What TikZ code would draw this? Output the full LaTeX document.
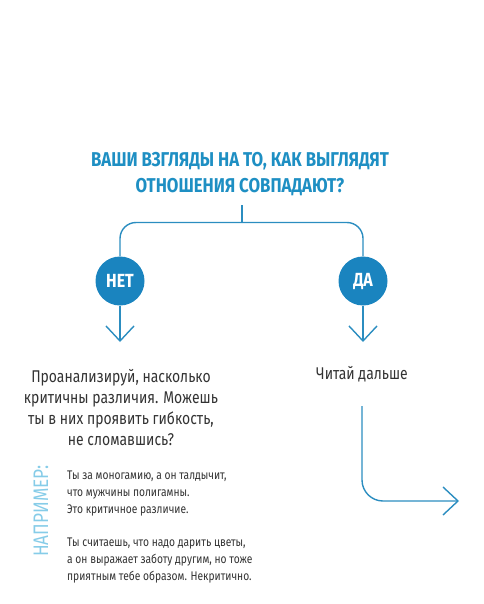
\documentclass[tikz,border=0pt]{standalone}
\usepackage{fontspec}
\setmainfont{Fira Sans}[FakeStretch=0.82]
\newfontfamily\titlefont{Fira Sans}[FakeStretch=0.84,BoldFont={Fira Sans Bold}]
\usetikzlibrary{arrows.meta}
\definecolor{cblue}{HTML}{1A84BF}
\definecolor{lblue}{HTML}{2B8DC0}
\definecolor{tblue}{HTML}{1E8FC3}
\definecolor{pblue}{HTML}{86CCE8}
\definecolor{txt}{HTML}{333333}
\tikzset{
  conn/.style={draw=lblue, line width=1.4pt},
  tip/.style={-{Straight Barb[length=15pt,width=28pt,line width=1.4pt]}},
  circ/.style={circle, fill=cblue, minimum size=49pt, inner sep=0pt, text=white, font=\titlefont\bfseries\fontsize{19}{19}\selectfont},
  body/.style={text=txt, font=\fontsize{17}{21}\selectfont, align=center, inner sep=0pt},
  small/.style={text=txt, font=\fontsize{12.5}{17}\selectfont, align=left, inner sep=0pt, anchor=north west}
}
\begin{document}
\begin{tikzpicture}[x=1pt,y=-1pt]
\useasboundingbox (0,0) rectangle (483,604);
\node[text=tblue, font=\titlefont\bfseries\fontsize{20}{26}\selectfont, align=center, inner sep=0pt] (title) at (240,174) {ВАШИ ВЗГЛЯДЫ НА ТО, КАК ВЫГЛЯДЯТ\\ОТНОШЕНИЯ СОВПАДАЮТ?};
\coordinate (stub) at (242,205);
\coordinate (fork) at (242,222.5);
\node[circ] (net) at (120,281) {НЕТ};
\node[circ] (da) at (363,281) {ДА};
\coordinate (netend) at (120,342);
\coordinate (daend) at (363,342);
\draw[conn] (stub) -- (fork);
\draw[conn, rounded corners=16pt] (net.north) |- (fork) -| (da.north);
\draw[conn, tip] (net.south) -- (netend);
\draw[conn, tip] (da.south) -- (daend);
\node[body] (left) at (121,408) {Проанализируй, насколько\\критичны различия. Можешь\\ты в них проявить гибкость,\\не сломавшись?};
\node[body] (right) at (362,374) {Читай дальше};
\coordinate (r1) at (362,406);
\coordinate (r2) at (459,501);
\draw[conn, tip, rounded corners=21pt] (r1) |- (r2);
\node[text=pblue, rotate=90, font=\fontsize{21}{21}\selectfont, inner sep=0pt] (label) at (41,511) {НАПРИМЕР:};
\node[small] (ex1) at (67,471) {Ты за моногамию, а он талдычит,\\что мужчины полигамны.\\Это критичное различие.};
\node[small] (ex2) at (67,538) {Ты считаешь, что надо дарить цветы,\\а он выражает заботу другим, но тоже\\приятным тебе образом. Некритично.};
\end{tikzpicture}
\end{document}
